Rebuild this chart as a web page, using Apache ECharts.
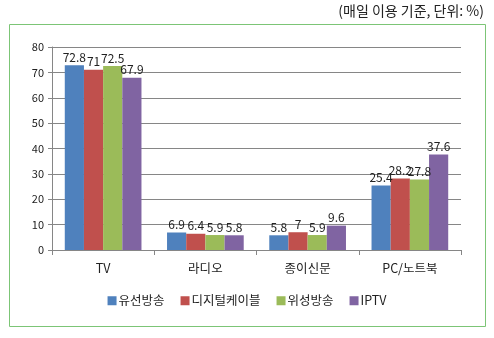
<!DOCTYPE html>
<html><head><meta charset="utf-8">
<script src="https://cdn.jsdelivr.net/npm/echarts@6/dist/echarts.min.js"></script>
<style>html,body{margin:0;padding:0;background:#fff}#c{width:494px;height:338px}</style>
</head><body><div id="c"></div>
<script>
const categories = ['TV', '라디오', '종이신문', 'PC/노트북'];
const seriesNames = ['유선방송', '디지털케이블', '위성방송', 'IPTV'];
const cable = [72.8, 6.9, 5.8, 25.4];
const digitalCable = [71, 6.4, 7, 28.2];
const satellite = [72.5, 5.9, 5.9, 27.8];
const iptv = [67.9, 5.8, 9.6, 37.6];
const colors = ['#4F81BD', '#C0504D', '#9BBB59', '#8064A2'];
const values = [cable, digitalCable, satellite, iptv];
const font = "'Noto Sans CJK KR', 'Noto Sans', sans-serif";

const chart = echarts.init(document.getElementById('c'), null, {renderer: 'canvas'});
chart.setOption({
  animation: false,
  textStyle: {fontFamily: font},
  graphic: [
    {type: 'rect', shape: {x: 9.5, y: 24.5, width: 476, height: 302}, style: {fill: 'none', stroke: '#7CC576', lineWidth: 1}},
    {type: 'text', right: 10, top: 4, style: {text: '(매일 이용 기준, 단위: %)', font: "14px " + font, fill: '#222'}}
  ],
  legend: {
    data: seriesNames, bottom: 26, left: 'center', itemWidth: 9, itemHeight: 9, itemGap: 16,
    icon: 'rect', textStyle: {fontSize: 12.5, color: '#222', padding: [0, 0, 0, -3]}
  },
  grid: {left: 52, right: 33, top: 47, bottom: 88},
  xAxis: {
    type: 'category', data: categories,
    axisLine: {lineStyle: {color: '#868686'}},
    axisTick: {show: true, length: 5, lineStyle: {color: '#868686'}},
    axisLabel: {fontSize: 12.5, color: '#222', margin: 12}
  },
  yAxis: {
    type: 'value', min: 0, max: 80, interval: 10,
    axisLine: {show: true, lineStyle: {color: '#868686'}},
    axisTick: {show: true, length: 4, lineStyle: {color: '#868686'}},
    axisLabel: {fontSize: 11, color: '#222', margin: 8},
    splitLine: {lineStyle: {color: '#868686', width: 1}}
  },
  series: seriesNames.map((n, i) => ({
    name: n, type: 'bar', data: values[i],
    barGap: '0%', barCategoryGap: '25%',
    itemStyle: {color: colors[i]},
    label: {show: true, position: 'top', fontSize: 12, color: '#222', distance: 2}
  }))
});
</script></body></html>
